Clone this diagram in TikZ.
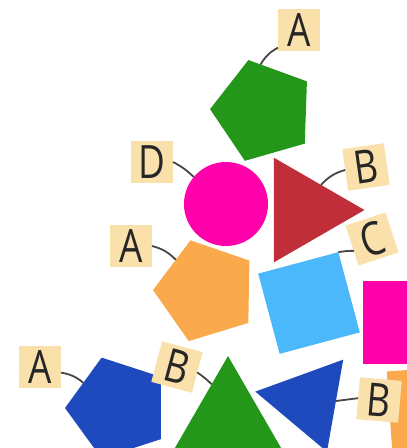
\documentclass[tikz,border=0pt]{standalone}
\usepackage{fontspec}
\setmainfont{Open Sans}
\usetikzlibrary{shapes.geometric}

\definecolor{leafgreen}{RGB}{36,150,26}
\definecolor{brick}{RGB}{192,46,58}
\definecolor{hotpink}{RGB}{255,0,170}
\definecolor{apricot}{RGB}{250,170,76}
\definecolor{sky}{RGB}{74,184,250}
\definecolor{royal}{RGB}{30,74,190}
\definecolor{tagfill}{RGB}{250,224,170}
\definecolor{wirecol}{RGB}{70,70,70}

\newcommand{\narrow}[1]{\scalebox{0.8}[1]{#1}}

\begin{document}
\begin{tikzpicture}[x=1pt, y=-1pt,
    piece/.style={draw=none, inner sep=0pt, outer sep=0pt},
    pent/.style={piece, regular polygon, regular polygon sides=5, minimum size=106pt},
    tri/.style={piece, regular polygon, regular polygon sides=3},
    tag/.style={fill=tagfill, inner sep=0pt, outer sep=0pt, minimum size=42pt,
                text=black!85, font=\fontsize{46}{46}\selectfont},
    wire/.style={draw=wirecol, line width=1.8pt}]
    \useasboundingbox (0,0) rectangle (407,448);
    \clip (0,0) rectangle (407,448);

    % Formen
    \node[pent, fill=leafgreen, shape border rotate=16] (gpent) at (263,111) {};
    \node[piece, circle, fill=hotpink, minimum size=84pt] (dot) at (226,204) {};
    \node[tri, fill=brick, minimum size=121pt, shape border rotate=-90] (rtri) at (304,210) {};
    \node[pent, fill=apricot, shape border rotate=17] (opent) at (206,291) {};
    \node[piece, rectangle, fill=sky, minimum size=83pt, rotate=15] (sq) at (309,303) {};
    \node[piece, rectangle, fill=hotpink, minimum size=83pt] (pinksq) at (404,322) {};
    \node[piece, rectangle, fill=apricot, minimum size=83pt, rotate=4] (osq) at (431,410) {};
    \node[pent, fill=royal, shape border rotate=18] (bpent) at (118,408) {};
    \node[tri, fill=leafgreen, minimum size=130pt] (gtri) at (228,421) {};
    \node[tri, fill=royal, minimum size=108pt, shape border rotate=80] (btri) at (308.5,401) {};

    % Schilder
    \node[tag] (tA1) at (299,30) {\narrow{A}};
    \node[tag] (tD) at (152,162) {\narrow{D}};
    \node[tag, rotate=8] (tB1) at (366,167) {\narrow{B}};
    \node[tag, rotate=18] (tC) at (372,239) {\narrow{C}};
    \node[tag] (tA2) at (131,246) {\narrow{A}};
    \node[tag] (tA3) at (40,367) {\narrow{A}};
    \node[tag, rotate=-15] (tB2) at (177,367) {\narrow{B}};
    \node[tag, rotate=-5] (tB3) at (379,400) {\narrow{B}};

    % Verbindungen
    \draw[wire] (gpent.93) to[bend left=15] (tA1.220);
    \draw[wire] (tD.east) to[bend left=8] (dot.140);
    \draw[wire] (rtri.56) to[bend left=15] (tB1.west);
    \draw[wire] (sq.north east) to[bend left=5] (tC.195);
    \draw[wire] (tA2.east) to[bend left=15] (opent.134);
    \draw[wire] (tA3.-15) to[bend left=15] (bpent.144);
    \draw[wire] (tB2.east) to[bend left=5] (gtri.114);
    \draw[wire] (btri.0) -- (tB3.west);
\end{tikzpicture}
\end{document}
